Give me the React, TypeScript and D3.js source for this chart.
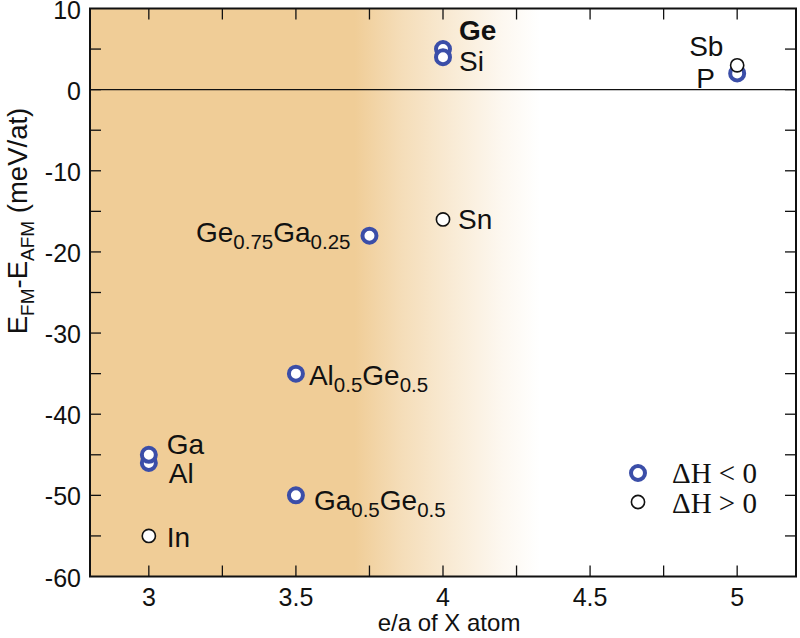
import React from 'react';
import * as d3 from 'd3';

// e/a of the X atom and E_FM - E_AFM (meV/at) for each compound
const names = ['Ge', 'Si', 'P', 'Sb', 'Sn', 'Ge0.75Ga0.25', 'Al0.5Ge0.5', 'Ga0.5Ge0.5', 'Al', 'Ga', 'In'];
const electrons = [4, 4, 5, 5, 4, 3.75, 3.5, 3.5, 3, 3, 3];
const energies = [5, 4, 2, 3, -16, -18, -35, -50, -46, -45, -55];
// true when the formation enthalpy is negative (blue ring)
const stable = [true, true, true, false, false, true, true, true, true, true, false];

const xTicks = [3, 3.5, 4, 4.5, 5];
const xMinor = [3, 3.25, 3.5, 3.75, 4, 4.25, 4.5, 4.75, 5];
const yTicks = [10, 0, -10, -20, -30, -40, -50, -60];
const yMinor = [5, 0, -5, -10, -15, -20, -25, -30, -35, -40, -45, -50, -55];

type Part = { t: string; sub?: boolean; bold?: boolean };

// label pieces and where they sit relative to the marker
const labels: Record<string, { parts: Part[]; dx: number; dy: number; anchor?: string }> = {
  Ge: { parts: [{ t: 'Ge', bold: true }], dx: 16, dy: -9 },
  Si: { parts: [{ t: 'Si' }], dx: 16, dy: 14 },
  Sb: { parts: [{ t: 'Sb' }], dx: -48, dy: -9 },
  P: { parts: [{ t: 'P' }], dx: -41, dy: 15 },
  Sn: { parts: [{ t: 'Sn' }], dx: 15, dy: 10 },
  'Ge0.75Ga0.25': {
    parts: [{ t: 'Ge' }, { t: '0.75', sub: true }, { t: 'Ga' }, { t: '0.25', sub: true }],
    dx: -19, dy: 6, anchor: 'end',
  },
  'Al0.5Ge0.5': {
    parts: [{ t: 'Al' }, { t: '0.5', sub: true }, { t: 'Ge' }, { t: '0.5', sub: true }],
    dx: 13, dy: 11,
  },
  'Ga0.5Ge0.5': {
    parts: [{ t: 'Ga' }, { t: '0.5', sub: true }, { t: 'Ge' }, { t: '0.5', sub: true }],
    dx: 18, dy: 15,
  },
  Ga: { parts: [{ t: 'Ga' }], dx: 18, dy: -1 },
  Al: { parts: [{ t: 'Al' }], dx: 20, dy: 20 },
  In: { parts: [{ t: 'In' }], dx: 18, dy: 11 },
};

const W = 800;
const H = 638;
const M = { left: 90, right: 4, top: 8.5, bottom: 61.5 };
const BLUE = '#3b4ea8';
const TAN = '#f0cd97';
const SANS = '"Liberation Sans", Arial, Helvetica, sans-serif';
const SERIF = '"Liberation Serif", "Times New Roman", serif';

function Label({ parts, x, y, anchor }: { parts: Part[]; x: number; y: number; anchor?: string }) {
  let shift = 0;
  return (
    <text x={x} y={y} fontSize={28} fontFamily={SANS} textAnchor={anchor ?? 'start'} fill="#111">
      {parts.map((p, i) => {
        const dy = p.sub ? 7 - shift : -shift;
        shift = p.sub ? 7 : 0;
        return (
          <tspan key={i} dy={dy} fontSize={p.sub ? 20.5 : 28} fontWeight={p.bold ? 'bold' : 'normal'}>
            {p.t}
          </tspan>
        );
      })}
    </text>
  );
}

export default function App() {
  const x = d3.scaleLinear().domain([2.8, 5.2]).range([M.left, W - M.right]);
  const y = d3.scaleLinear().domain([-60, 10]).range([H - M.bottom, M.top]);
  const [x0, x1] = x.range();
  const [y0, y1] = y.range();
  const tick = 11;

  const pts = names.map((n, i) => ({ name: n, x: electrons[i], y: energies[i], blue: stable[i] }));

  return (
    <svg width={W} height={H} style={{ position: 'absolute', left: 0, top: 0, background: '#fff' }}>
      <defs>
        <linearGradient id="band" gradientUnits="userSpaceOnUse" x1={x(3.7)} x2={x(4.33)} y1={0} y2={0}>
          <stop offset="0%" stopColor={TAN} />
          <stop offset="25%" stopColor={TAN} stopOpacity={0.68} />
          <stop offset="55%" stopColor={TAN} stopOpacity={0.38} />
          <stop offset="80%" stopColor={TAN} stopOpacity={0.14} />
          <stop offset="100%" stopColor={TAN} stopOpacity={0} />
        </linearGradient>
      </defs>

      <rect x={x0} y={y1} width={x1 - x0} height={y0 - y1} fill="url(#band)" />
      <line x1={x0} x2={x1} y1={y(0)} y2={y(0)} stroke="#111" strokeWidth={1.3} />

      {xMinor.map(v => (
        <g key={'xt' + v} stroke="#111" strokeWidth={1.3}>
          <line x1={x(v)} x2={x(v)} y1={y0} y2={y0 - tick} />
          <line x1={x(v)} x2={x(v)} y1={y1} y2={y1 + tick} />
        </g>
      ))}
      {yMinor.map(v => (
        <g key={'yt' + v} stroke="#111" strokeWidth={1.3}>
          <line x1={x0} x2={x0 + tick} y1={y(v)} y2={y(v)} />
          <line x1={x1} x2={x1 - tick} y1={y(v)} y2={y(v)} />
        </g>
      ))}
      <rect x={x0} y={y1} width={x1 - x0} height={y0 - y1} fill="none" stroke="#111" strokeWidth={2} />

      {xTicks.map(v => (
        <text key={'xl' + v} x={x(v)} y={y0 + 29} textAnchor="middle" fontSize={25} fontFamily={SANS} fill="#111">
          {v}
        </text>
      ))}
      {yTicks.map(v => (
        <text key={'yl' + v} x={x0 - 9} y={y(v) + 10} textAnchor="end" fontSize={25} fontFamily={SANS} fill="#111">
          {v}
        </text>
      ))}

      <text x={(x0 + x1) / 2 + 6} y={H - 7} textAnchor="middle" fontSize={24} fontFamily={SANS} fill="#111">
        e/a of X atom
      </text>
      <text transform="translate(27,221) rotate(-90)" textAnchor="middle" fontSize={27.5} fontFamily={SANS} fill="#111">
        E<tspan fontSize={19} dy={7}>FM</tspan>
        <tspan dy={-7}>-E</tspan>
        <tspan fontSize={19} dy={7}>AFM</tspan>
        <tspan dy={-7}> (meV/at)</tspan>
      </text>

      {pts.map(p => (
        <circle
          key={p.name}
          cx={x(p.x)}
          cy={y(p.y)}
          r={p.blue ? 7 : 6.6}
          fill="#fff"
          stroke={p.blue ? BLUE : '#111'}
          strokeWidth={p.blue ? 4 : 1.6}
        />
      ))}
      {pts.map(p => {
        const l = labels[p.name];
        return <Label key={'l' + p.name} parts={l.parts} x={x(p.x) + l.dx} y={y(p.y) + l.dy} anchor={l.anchor} />;
      })}

      <circle cx={638} cy={473} r={7} fill="#fff" stroke={BLUE} strokeWidth={4} />
      <text x={672} y={483} fontSize={29} fontFamily={SERIF} fill="#111">ΔH &lt; 0</text>
      <circle cx={638} cy={502} r={6.6} fill="#fff" stroke="#111" strokeWidth={1.6} />
      <text x={672} y={513} fontSize={29} fontFamily={SERIF} fill="#111">ΔH &gt; 0</text>
    </svg>
  );
}
